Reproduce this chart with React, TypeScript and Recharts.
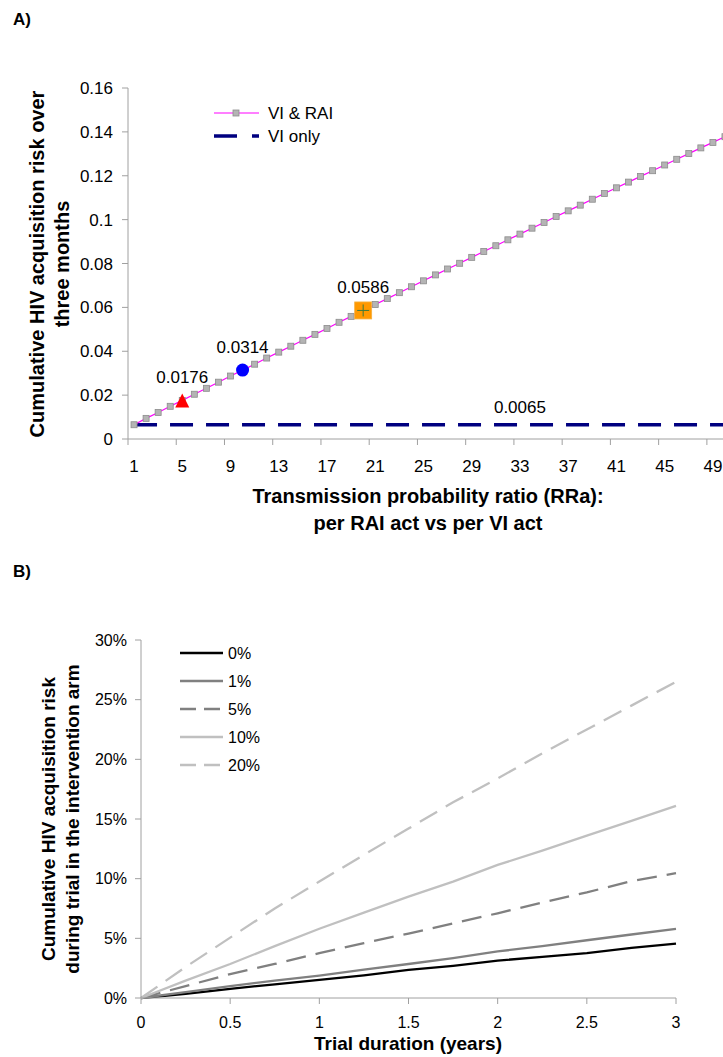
import { ComposedChart, Line, LineChart, XAxis, YAxis } from "recharts";

const FONT = "'Liberation Sans', Arial, sans-serif";

// ---- Panel A: cumulative risk over three months vs RRa ----
const rraCategories = [
  1, 2, 3, 4, 5, 6, 7, 8, 9, 10, 11, 12, 13, 14, 15, 16, 17, 18, 19, 20, 21, 22, 23, 24, 25,
  26, 27, 28, 29, 30, 31, 32, 33, 34, 35, 36, 37, 38, 39, 40, 41, 42, 43, 44, 45, 46, 47, 48, 49, 50,
];
const viRaiRisk = [
  0.0065, 0.0094, 0.0121, 0.0149, 0.0176, 0.0204, 0.0231, 0.0259, 0.0287, 0.0314,
  0.0341, 0.0369, 0.0396, 0.0423, 0.045, 0.0477, 0.0504, 0.0532, 0.0559, 0.0586,
  0.0613, 0.064, 0.0667, 0.0694, 0.0721, 0.0748, 0.0775, 0.0801, 0.0828, 0.0855,
  0.0881, 0.0908, 0.0934, 0.0961, 0.0987, 0.1014, 0.104, 0.1066, 0.1093, 0.1119,
  0.1145, 0.1171, 0.1197, 0.1223, 0.1249, 0.1275, 0.1301, 0.1327, 0.1352, 0.1378,
];
const viOnlyRisk = [
  0.0065, 0.0065, 0.0065, 0.0065, 0.0065, 0.0065, 0.0065, 0.0065, 0.0065, 0.0065,
  0.0065, 0.0065, 0.0065, 0.0065, 0.0065, 0.0065, 0.0065, 0.0065, 0.0065, 0.0065,
  0.0065, 0.0065, 0.0065, 0.0065, 0.0065, 0.0065, 0.0065, 0.0065, 0.0065, 0.0065,
  0.0065, 0.0065, 0.0065, 0.0065, 0.0065, 0.0065, 0.0065, 0.0065, 0.0065, 0.0065,
  0.0065, 0.0065, 0.0065, 0.0065, 0.0065, 0.0065, 0.0065, 0.0065, 0.0065, 0.0065,
];
const highlights = [
  { rra: 5, value: 0.0176, shape: "triangle" },
  { rra: 10, value: 0.0314, shape: "circle" },
  { rra: 20, value: 0.0586, shape: "square" },
];
const viOnlyNote = { rra: 33, value: 0.0065 };
const topYTicks = [0, 0.02, 0.04, 0.06, 0.08, 0.1, 0.12, 0.14, 0.16];
const topXTickLabels = [1, 5, 9, 13, 17, 21, 25, 29, 33, 37, 41, 45, 49];

// ---- Panel B: cumulative risk during trial ----
const trialYears = [0, 0.25, 0.5, 0.75, 1, 1.25, 1.5, 1.75, 2, 2.25, 2.5, 2.75, 3];
const risk0 = [0, 0.35, 0.77, 1.15, 1.52, 1.9, 2.35, 2.7, 3.13, 3.45, 3.76, 4.2, 4.56];
const risk1 = [0, 0.5, 1.0, 1.45, 1.88, 2.38, 2.85, 3.35, 3.9, 4.35, 4.84, 5.32, 5.8];
const risk5 = [0, 1.0, 2.0, 2.85, 3.76, 4.6, 5.4, 6.25, 7.1, 8.0, 8.85, 9.8, 10.46];
const risk10 = [0, 1.45, 2.85, 4.35, 5.8, 7.15, 8.5, 9.75, 11.15, 12.35, 13.6, 14.85, 16.1];
const risk20 = [0, 2.6, 5.06, 7.5, 9.76, 12.0, 14.2, 16.4, 18.4, 20.5, 22.5, 24.5, 26.5];
const bottomYTicks = [0, 5, 10, 15, 20, 25, 30];
const bottomXTicks = [0, 0.5, 1, 1.5, 2, 2.5, 3];

const bottomSeries = [
  { key: "r0", name: "0%", color: "#000000", dash: undefined },
  { key: "r1", name: "1%", color: "#808080", dash: undefined },
  { key: "r5", name: "5%", color: "#808080", dash: "20 10" },
  { key: "r10", name: "10%", color: "#c0c0c0", dash: undefined },
  { key: "r20", name: "20%", color: "#c0c0c0", dash: "20 10" },
];

const topData = rraCategories.map((rra, i) => ({
  rra,
  viRai: viRaiRisk[i],
  viOnly: viOnlyRisk[i],
  mark: highlights.find((h) => h.rra === rra)?.value ?? null,
  note: rra === viOnlyNote.rra ? viOnlyNote.value : null,
}));

const bottomData = trialYears.map((t, i) => ({
  t,
  r0: risk0[i],
  r1: risk1[i],
  r5: risk5[i],
  r10: risk10[i],
  r20: risk20[i],
}));

const TOP_W = 731;
const TOP_AXIS_W = 128;
const bandHalf = (TOP_W - TOP_AXIS_W) / rraCategories.length / 2;

const axisGray = "#a0a0a0";

function GraySquare(props: any) {
  const { cx, cy, index } = props;
  if (cx == null || cy == null) return <g key={`sq-${index}`} />;
  return <rect key={`sq-${index}`} x={cx - 3} y={cy - 3} width={6} height={6} fill="#b4b4b4" stroke="#8c8c8c" strokeWidth={0.8} />;
}

function HighlightDot(props: any) {
  const { cx, cy, index, payload } = props;
  const h = highlights.find((d) => d.rra === payload?.rra);
  if (!h || cx == null || cy == null) return <g key={`hl-${index}`} />;
  let shape = null;
  if (h.shape === "triangle") {
    shape = <polygon points={`${cx},${cy - 7} ${cx + 7},${cy + 7} ${cx - 7},${cy + 7}`} fill="#ff0000" />;
  } else if (h.shape === "circle") {
    shape = <circle cx={cx} cy={cy} r={6.5} fill="#0000ff" />;
  } else {
    shape = (
      <g>
        <rect x={cx - 8.5} y={cy - 8.5} width={17} height={17} fill="#ff9900" stroke="#f5b041" strokeWidth={0.8} />
        <line x1={cx - 6} y1={cy} x2={cx + 6} y2={cy} stroke="#3c7a3c" strokeWidth={1} />
        <line x1={cx} y1={cy - 6} x2={cx} y2={cy + 6} stroke="#3c7a3c" strokeWidth={1} />
      </g>
    );
  }
  return (
    <g key={`hl-${index}`}>
      {shape}
      <text x={cx} y={cy - 17} textAnchor="middle" fill="#000" fontSize={17} fontFamily={FONT}>
        {h.value}
      </text>
    </g>
  );
}

function NoteDot(props: any) {
  const { cx, cy, index, value } = props;
  if (value == null || cx == null || cy == null) return <g key={`nt-${index}`} />;
  return (
    <text key={`nt-${index}`} x={cx} y={cy - 12} textAnchor="middle" fill="#000" fontSize={17} fontFamily={FONT}>
      {value}
    </text>
  );
}

function TopXTick(props: any) {
  const { x, y, index } = props;
  return (
    <text x={x + bandHalf} y={y} dy="0.71em" textAnchor="middle" fill="#000" fontSize={17} fontFamily={FONT}>
      {topXTickLabels[index]}
    </text>
  );
}

const abs = (left: number, top: number): React.CSSProperties => ({ position: "absolute", left, top });

export default function App() {
  return (
    <div style={{ position: "absolute", left: 0, top: 0, width: 723, height: 1057, overflow: "hidden", background: "#fff", fontFamily: FONT }}>
      <div style={{ ...abs(13, 10), fontWeight: "bold", fontSize: 17 }}>A)</div>

      <div style={abs(0, 0)}>
        <ComposedChart width={TOP_W} height={479} data={topData} margin={{ top: 88, right: 0, bottom: 0, left: 0 }}>
          <XAxis
            dataKey="rra"
            type="number"
            domain={[0.5, 50.5]}
            ticks={topXTickLabels.map((v) => v - 0.5)}
            tick={TopXTick}
            tickSize={6}
            tickMargin={15}
            height={40}
            stroke={axisGray}
            interval={0}
          />
          <YAxis
            type="number"
            domain={[0, 0.16]}
            ticks={topYTicks}
            width={TOP_AXIS_W}
            tickSize={6}
            tickMargin={9}
            stroke={axisGray}
            tick={{ fill: "#000", fontSize: 17, fontFamily: FONT }}
            interval={0}
          />
          <Line dataKey="viOnly" stroke="#000080" strokeWidth={3.5} strokeDasharray="23 13" dot={false} isAnimationActive={false} />
          <Line dataKey="viRai" stroke="#ff00ff" strokeWidth={1.2} dot={GraySquare} isAnimationActive={false} />
          <Line dataKey="mark" stroke="none" dot={HighlightDot} isAnimationActive={false} />
          <Line dataKey="note" stroke="none" dot={NoteDot} isAnimationActive={false} />
        </ComposedChart>
      </div>

      <svg style={abs(200, 98)} width={160} height={52}>
        <line x1={14} y1={15} x2={59} y2={15} stroke="#ff00ff" strokeWidth={1.2} />
        <rect x={33} y={12} width={6} height={6} fill="#b4b4b4" stroke="#8c8c8c" strokeWidth={0.8} />
        <text x={68} y={15} dy="0.35em" fontSize={17} fontFamily={FONT} fill="#000">VI &amp; RAI</text>
        <line x1={14} y1={38} x2={59} y2={38} stroke="#000080" strokeWidth={3.5} strokeDasharray="23 15" />
        <text x={68} y={38} dy="0.35em" fontSize={17} fontFamily={FONT} fill="#000">VI only</text>
      </svg>

      <div
        style={{
          position: "absolute",
          left: 50,
          top: 264,
          transform: "translate(-50%, -50%) rotate(-90deg)",
          whiteSpace: "nowrap",
          textAlign: "center",
          fontWeight: "bold",
          fontSize: 20,
          lineHeight: "25px",
        }}
      >
        Cumulative HIV acquisition risk over
        <br />
        three months
      </div>

      <div
        style={{
          position: "absolute",
          left: 428,
          top: 483,
          transform: "translateX(-50%)",
          whiteSpace: "nowrap",
          textAlign: "center",
          fontWeight: "bold",
          fontSize: 20,
          lineHeight: "27px",
        }}
      >
        Transmission probability ratio (RRa):
        <br />
        per RAI act vs per VI act
      </div>

      <div style={{ ...abs(13, 562), fontWeight: "bold", fontSize: 17 }}>B)</div>

      <div style={abs(0, 600)}>
        <LineChart width={696} height={430} data={bottomData} margin={{ top: 40, right: 20, bottom: 0, left: 0 }}>
          <XAxis
            dataKey="t"
            type="number"
            domain={[0, 3]}
            ticks={bottomXTicks}
            tickSize={6}
            tickMargin={13}
            height={32}
            stroke={axisGray}
            tick={{ fill: "#000", fontSize: 16, fontFamily: FONT }}
            interval={0}
          />
          <YAxis
            type="number"
            domain={[0, 30]}
            ticks={bottomYTicks}
            width={141}
            tickSize={6}
            tickMargin={8}
            stroke={axisGray}
            tick={{ fill: "#000", fontSize: 16, fontFamily: FONT }}
            tickFormatter={(v: number) => `${v}%`}
            interval={0}
          />
          {bottomSeries.map((s) => (
            <Line
              key={s.key}
              dataKey={s.key}
              name={s.name}
              stroke={s.color}
              strokeWidth={2.3}
              strokeDasharray={s.dash}
              dot={false}
              isAnimationActive={false}
            />
          ))}
        </LineChart>
      </div>

      <svg style={abs(170, 640)} width={120} height={140}>
        {bottomSeries.map((s, i) => (
          <g key={s.key}>
            <line x1={10} y1={13 + i * 28} x2={53} y2={13 + i * 28} stroke={s.color} strokeWidth={2.3} strokeDasharray={s.dash ? "16 8" : undefined} />
            <text x={58} y={13 + i * 28} dy="0.35em" fontSize={16} fontFamily={FONT} fill="#000">
              {s.name}
            </text>
          </g>
        ))}
      </svg>

      <div
        style={{
          position: "absolute",
          left: 61,
          top: 819,
          transform: "translate(-50%, -50%) rotate(-90deg)",
          whiteSpace: "nowrap",
          textAlign: "center",
          fontWeight: "bold",
          fontSize: 19,
          lineHeight: "24px",
        }}
      >
        Cumulative HIV acquisition risk
        <br />
        during trial in the intervention arm
      </div>

      <div
        style={{
          position: "absolute",
          left: 408,
          top: 1033,
          transform: "translateX(-50%)",
          whiteSpace: "nowrap",
          fontWeight: "bold",
          fontSize: 19,
          lineHeight: "22px",
        }}
      >
        Trial duration (years)
      </div>
    </div>
  );
}
